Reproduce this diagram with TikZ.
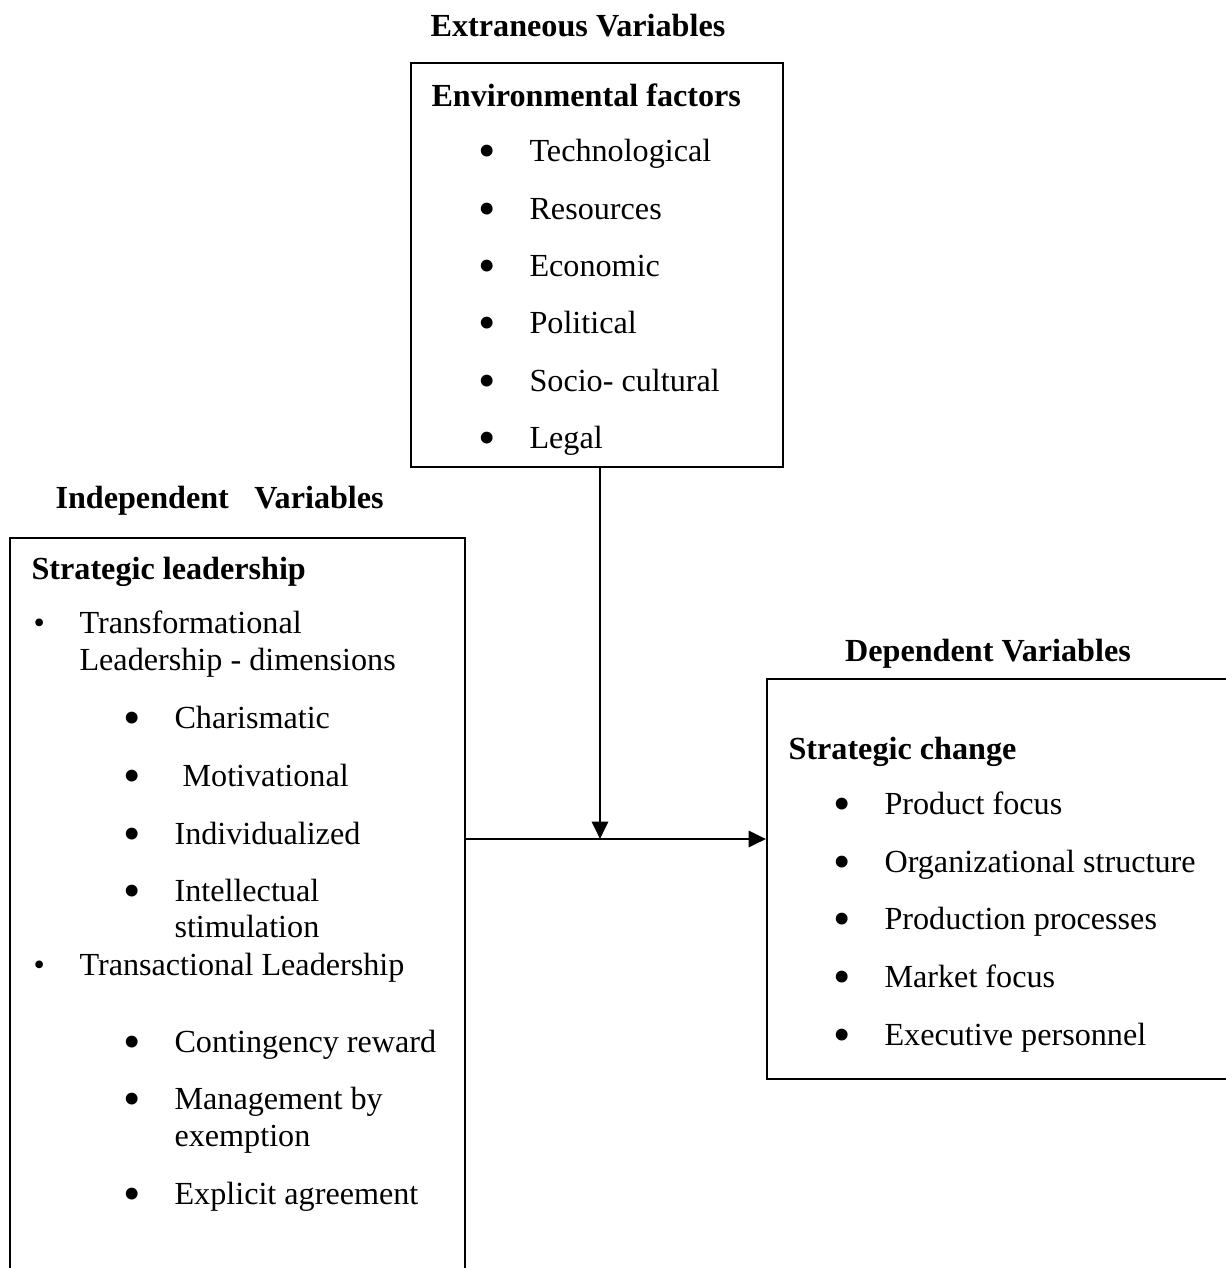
\documentclass[tikz,border=0pt]{standalone}
\usepackage{fontspec}
\setmainfont{Liberation Serif}
\usepackage{tikz}
\usetikzlibrary{arrows.meta}
\newdimen\pxu
\pxu=0.373pt
\newcommand{\bul}{\makebox[51\pxu][l]{\raisebox{-2.5pt}{\fontsize{18.5}{18.5}\selectfont\textbullet}}}
\newcommand{\dotbul}{\makebox[46\pxu][l]{\textbullet}}
\begin{document}
\begin{tikzpicture}[x=\pxu, y=-\pxu,
    font=\fontsize{12}{13.8}\selectfont,
    txt/.style={anchor=base west,inner sep=0},
    head/.style={txt,font=\fontsize{12}{13.8}\selectfont\bfseries},
    box/.style={draw,line width=0.75pt,inner sep=0},
    arr/.style={line width=1.1pt,-{Triangle[length=6.5pt,width=6pt]}}]
        \useasboundingbox (0,0) rectangle (1226,1268);
        \clip (0,0) rectangle (1226,1268);
        \node at (578,36) [head,anchor=base] (extitle) {Extraneous Variables};
        \node at (597,265) [box,minimum width=372\pxu,minimum height=404\pxu] (envbox) {};
        \node at (431,106) [head] (envhead) {Environmental factors};
        \node at (478,161) [txt] (tech) {\bul Technological};
        \node at (478,219) [txt] (res) {\bul Resources};
        \node at (478,276) [txt] (econ) {\bul Economic};
        \node at (478,333) [txt] (pol) {\bul Political};
        \node at (478,391) [txt] (socio) {\bul Socio- cultural};
        \node at (478,448) [txt] (legal) {\bul Legal};
        \node at (55,508) [head] (indtitle) {Independent\hspace{9.5pt}Variables};
        \node at (237.5,919) [box,minimum width=455\pxu,minimum height=762\pxu] (leadbox) {};
        \node at (31,579) [head] (leadhead) {Strategic leadership};
        \node at (33,633) [txt] (transf) {\dotbul Transformational};
        \node at (79,670) [txt] (transf2) {Leadership - dimensions};
        \node at (123,728) [txt] (charis) {\bul Charismatic};
        \node at (123,786) [txt] (motiv) {\bul \ Motivational};
        \node at (123,844) [txt] (indiv) {\bul Individualized};
        \node at (123,901) [txt] (intel) {\bul Intellectual};
        \node at (174,937) [txt] (intel2) {stimulation};
        \node at (33,975) [txt] (transa) {\dotbul Transactional Leadership};
        \node at (123,1052) [txt] (conting) {\bul Contingency reward};
        \node at (123,1109) [txt] (manage) {\bul Management by};
        \node at (174,1146) [txt] (manage2) {exemption};
        \node at (123,1204) [txt] (explicit) {\bul Explicit agreement};
        \node at (988,661) [head,anchor=base] (deptitle) {Dependent Variables};
        \node at (1017,879) [box,minimum width=500\pxu,minimum height=400\pxu] (changebox) {};
        \node at (788,759) [head] (changehead) {Strategic change};
        \node at (833,814) [txt] (product) {\bul Product focus};
        \node at (833,872) [txt] (orgstruct) {\bul Organizational structure};
        \node at (833,929) [txt] (prodproc) {\bul Production processes};
        \node at (833,987) [txt] (market) {\bul Market focus};
        \node at (833,1045) [txt] (execpers) {\bul Executive personnel};
        \coordinate (join) at (600,839);
        \draw[arr] (envbox.south -| join) -- (join);
        \draw[arr] (leadbox.east |- join) -- (changebox.west |- join);
    \end{tikzpicture}
\end{document}
